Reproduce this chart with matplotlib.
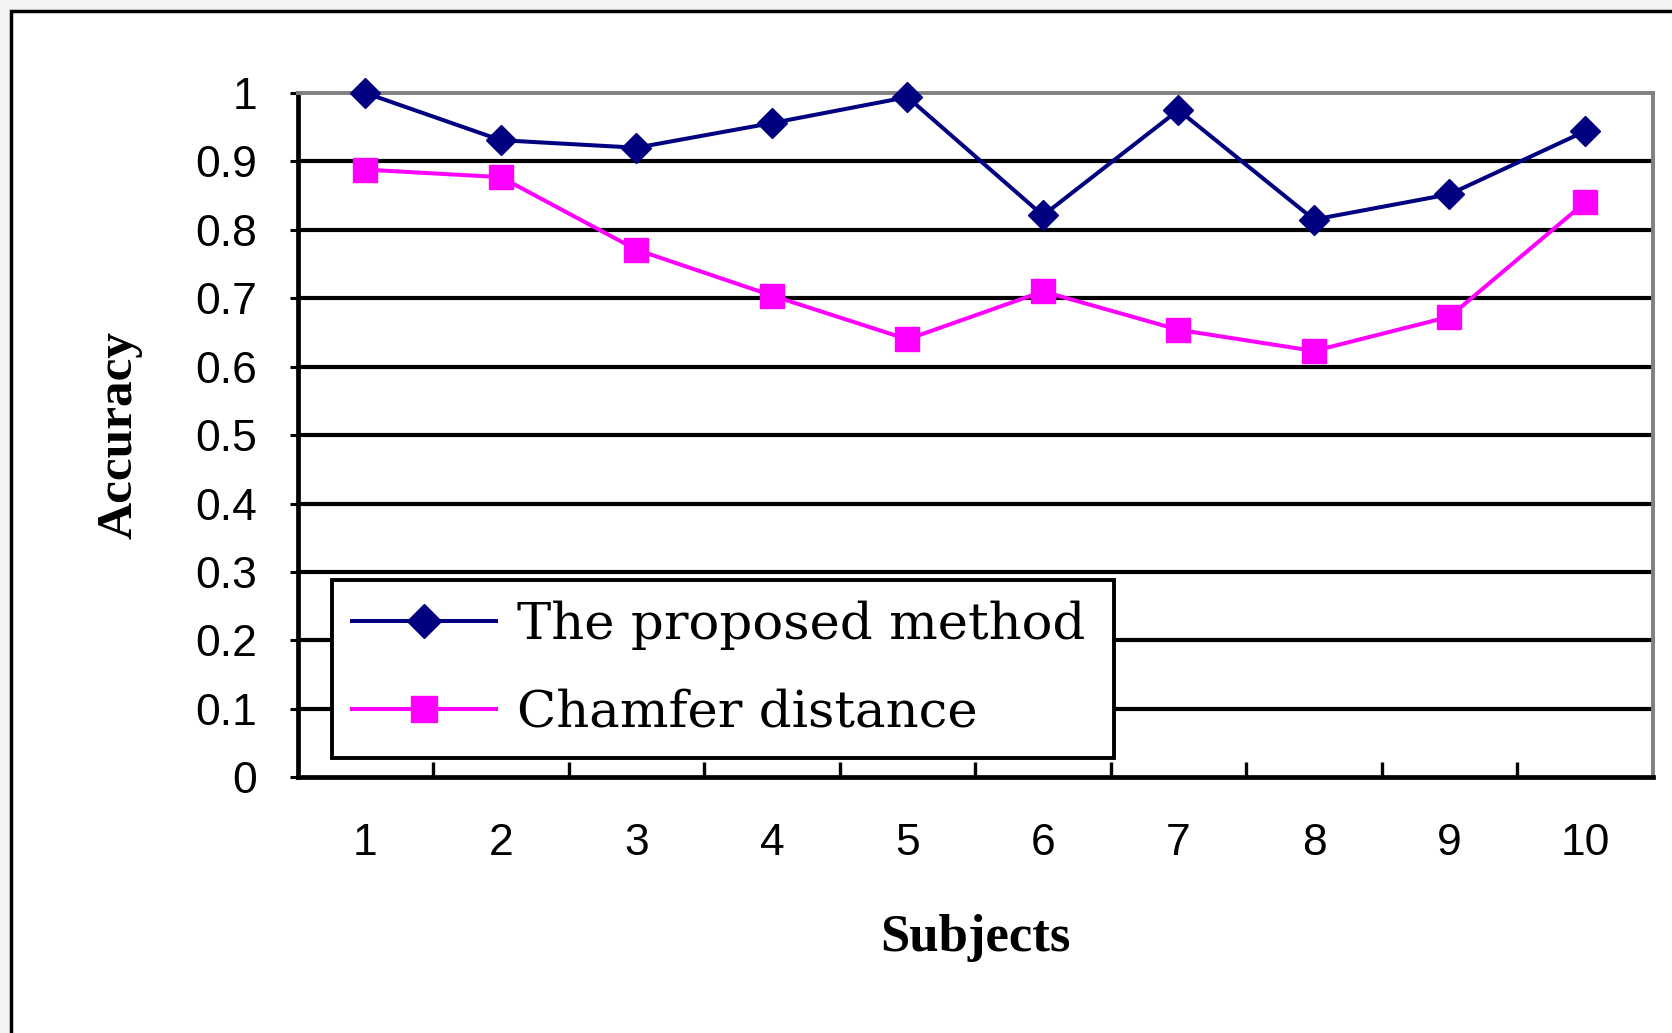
import matplotlib
matplotlib.use("Agg")
import matplotlib.pyplot as plt
from matplotlib.patches import Rectangle
from matplotlib.ticker import FixedLocator

# === Daten ===
subjects = [1, 2, 3, 4, 5, 6, 7, 8, 9, 10]
proposed = [1.0, 0.931, 0.920, 0.956, 0.994, 0.821, 0.975, 0.815, 0.852, 0.944]
chamfer = [0.888, 0.877, 0.771, 0.704, 0.640, 0.710, 0.654, 0.623, 0.673, 0.840]
y_ticks = [0, 0.1, 0.2, 0.3, 0.4, 0.5, 0.6, 0.7, 0.8, 0.9, 1]
y_labels = ["0", "0.1", "0.2", "0.3", "0.4", "0.5", "0.6", "0.7", "0.8", "0.9", "1"]

tick_font = ["Liberation Sans Narrow", "Liberation Sans", "DejaVu Sans"]
serif_font = ["Liberation Serif", "DejaVu Serif"]
legend_font = ["DejaVu Serif"]

fig = plt.figure(figsize=(16.72, 10.33), dpi=100)
fig.patch.set_facecolor("#f4f4f4")

# Rahmen um die Grafik (hinter den Achsen)
frame = Rectangle((10.5 / 1672, -0.1), 1.2, 1.1 - 11 / 1033, transform=fig.transFigure,
                  facecolor="white", edgecolor="black", linewidth=2.5, zorder=-1)
fig.add_artist(frame)

ax = fig.add_axes([0.178, 0.2475, 0.8105, 0.6625])
ax.set_facecolor("white")

ax.plot(subjects, proposed, color="#000080", marker="D", markersize=15.5, linewidth=2.9,
        label="The proposed method", zorder=3, clip_on=False)
ax.plot(subjects, chamfer, color="#ff00ff", marker="s", markersize=17, linewidth=2.9,
        label="Chamfer distance", zorder=3, clip_on=False)

ax.set_xlim(0.5, 10.5)
ax.set_ylim(0, 1)

# Gitterlinien
for y in y_ticks[1:-1]:
    ax.axhline(y, color="black", linewidth=3.0, zorder=1)

ax.set_yticks(y_ticks)
ax.set_yticklabels(y_labels, fontfamily=tick_font, fontsize=32)
ax.tick_params(axis="y", direction="out", length=6, width=2.2, pad=23)

ax.set_xticks(subjects)
ax.set_xticklabels([str(s) for s in subjects], fontfamily=tick_font, fontsize=32)
ax.tick_params(axis="x", which="major", length=0, pad=33)
ax.xaxis.set_minor_locator(FixedLocator([s + 0.5 for s in subjects[:-1]]))
ax.tick_params(axis="x", which="minor", direction="in", length=11, width=2.4)

for side in ["left", "bottom"]:
    ax.spines[side].set_linewidth(3.4)
    ax.spines[side].set_color("black")
for side in ["top", "right"]:
    ax.spines[side].set_linewidth(2.8)
    ax.spines[side].set_color("#808080")

ax.set_xlabel("Subjects", fontfamily=serif_font, fontweight="bold", fontsize=38, labelpad=36)
ax.set_ylabel("Accuracy", fontfamily=serif_font, fontweight="bold", fontsize=37, labelpad=38)

leg = ax.legend(loc="lower left", bbox_to_anchor=(0.0252, 0.028, 0.577, 0.265), mode="expand",
                borderaxespad=0, prop={"family": legend_font, "size": 37}, frameon=True,
                fancybox=False, handlelength=2.8, borderpad=0.4, labelspacing=0.75,
                handletextpad=0.4, framealpha=1, markerscale=1.1)
leg.get_frame().set_edgecolor("black")
leg.get_frame().set_linewidth(2.8)

fig.savefig("out.png", dpi=100, facecolor=fig.get_facecolor())
